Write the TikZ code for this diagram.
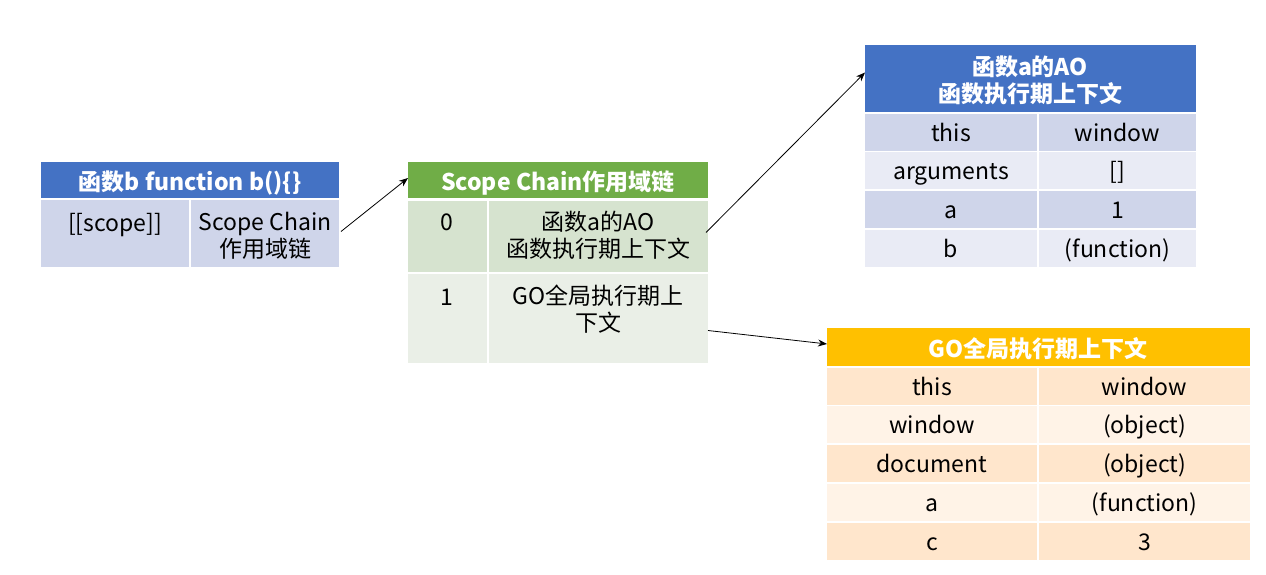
\documentclass[tikz,border=0pt]{standalone}
\usepackage{fontspec}
\setmainfont{Noto Sans CJK SC}
\usetikzlibrary{arrows.meta}
\definecolor{hblue}{HTML}{4472C4}
\definecolor{hgreen}{HTML}{70AD47}
\definecolor{hgold}{HTML}{FFC000}
\definecolor{bluea}{HTML}{CFD5EA}
\definecolor{blueb}{HTML}{E9EBF5}
\definecolor{greena}{HTML}{D6E3CF}
\definecolor{greenb}{HTML}{EAEFE7}
\definecolor{golda}{HTML}{FFE6CC}
\definecolor{goldb}{HTML}{FFF3E7}
\begin{document}
\begin{tikzpicture}[x=1pt,y=-1pt,
  cell/.style={rectangle,inner sep=0pt,outer sep=0pt,draw=none,anchor=north west},
  txt/.style={inner sep=0pt,align=center,font=\fontsize{23}{27}\selectfont,text=black},
  one/.style={text height=16pt,text depth=5pt,yshift=-3.5pt},
  htxt/.style={inner sep=0pt,align=center,font=\fontsize{23}{27}\selectfont\bfseries,text=white},
  arr/.style={draw=black,line width=0.8pt,-{Stealth[length=9pt,width=7pt]}}]
\useasboundingbox[fill=white] (0,0) rectangle (1266,574);

% ---- Table 1: function b
\node[cell,fill=hblue,minimum width=298pt,minimum height=36pt] (bh) at (41,162) {};
\node[cell,fill=bluea,minimum width=148pt,minimum height=67pt] (b1) at (41,200) {};
\node[cell,fill=bluea,minimum width=148pt,minimum height=67pt] (b2) at (191,200) {};
\node[htxt,one] (bht) at (190,181) {函数b function b()\{\}};
\node[txt,one] (b1t) at (115,222) {[[scope]]};
\node[txt] (b2t) at (265,236) {Scope Chain\\作用域链};

% ---- Table 2: scope chain
\node[cell,fill=hgreen,minimum width=300pt,minimum height=36pt] (sh) at (408,162) {};
\node[cell,fill=greena,minimum width=79pt,minimum height=71pt] (s01) at (408,201) {};
\node[cell,fill=greena,minimum width=219pt,minimum height=71pt] (s02) at (489,201) {};
\node[cell,fill=greenb,minimum width=79pt,minimum height=89pt] (s11) at (408,274) {};
\node[cell,fill=greenb,minimum width=219pt,minimum height=89pt] (s12) at (489,274) {};
\node[htxt,one] (sht) at (558,181) {Scope Chain作用域链};
\node[txt,one] (s01t) at (447,221) {0};
\node[txt] (s02t) at (598,235) {函数a的AO\\函数执行期上下文};
\node[txt,one] (s11t) at (447,296) {1};
\node[txt] (s12t) at (598,309) {GO全局执行期上\\下文};

% ---- Table 3: AO of a
\node[cell,fill=hblue,minimum width=331pt,minimum height=67pt] (ah) at (865,45) {};
\node[htxt] (aht) at (1030,80) {函数a的AO\\函数执行期上下文};
\foreach \i/\y/\c/\k/\v in {1/114/bluea/this/window, 2/152/blueb/arguments/{[]}, 3/191/bluea/a/1, 4/230/blueb/b/(function)}{
  \node[cell,fill=\c,minimum width=172pt,minimum height=37pt] (a\i k) at (865,\y) {};
  \node[cell,fill=\c,minimum width=157pt,minimum height=37pt] (a\i v) at (1039,\y) {};
  \node[txt,one] at (a\i k.center) {\k};
  \node[txt,one] at (a\i v.center) {\v};
}

% ---- Table 4: GO
\node[cell,fill=hgold,minimum width=423pt,minimum height=38pt] (gh) at (827,328) {};
\node[htxt,one] (ght) at (1038,348) {GO全局执行期上下文};
\foreach \i/\y/\c/\k/\v in {1/368/golda/this/window, 2/406/goldb/window/(object), 3/445/golda/document/(object), 4/484/goldb/a/(function), 5/523/golda/c/3}{
  \node[cell,fill=\c,minimum width=210pt,minimum height=37pt] (g\i k) at (827,\y) {};
  \node[cell,fill=\c,minimum width=211pt,minimum height=37pt] (g\i v) at (1039,\y) {};
  \node[txt,one] at (g\i k.center) {\k};
  \node[txt,one] at (g\i v.center) {\v};
}

% ---- connectors
\draw[arr] ([xshift=2pt,yshift=2pt]b2.east) -- ([yshift=2pt]sh.west);
\draw[arr] ([xshift=-2pt,yshift=4pt]s02.east) -- ([yshift=6pt]ah.west);
\draw[arr] ([yshift=-12pt]s12.east) -- ([yshift=3pt]gh.west);
\end{tikzpicture}
\end{document}
